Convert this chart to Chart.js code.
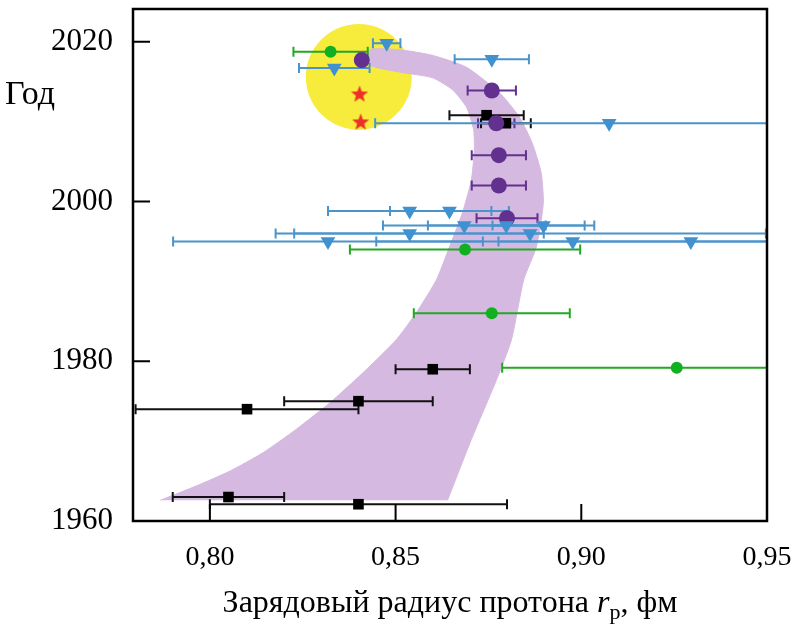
<!DOCTYPE html>
<html>
<head>
<meta charset="utf-8">
<script src="https://cdn.jsdelivr.net/npm/chart.js@4.4.0/dist/chart.umd.min.js"></script>
<style>
  html, body { margin: 0; padding: 0; background: #fff; }
</style>
</head>
<body>
<canvas id="myChart" width="806" height="628"></canvas>
<script>
// axis ticks
const xTicks = [0.80, 0.85, 0.90, 0.95];
const yTicks = [1960, 1980, 2000, 2020];

// electron scattering (black squares)
const elX    = [0.840, 0.805, 0.810, 0.840, 0.860, 0.8745, 0.8797];
const elYear = [1962.1, 1963.0, 1974.0, 1975.0, 1979.0, 2010.8, 2009.8];
const elErr  = [0.040, 0.015, 0.030, 0.020, 0.010, 0.010, 0.0067];

// CODATA values (purple circles)
const codX    = [0.8409, 0.8759, 0.8771, 0.8778, 0.8778, 0.8800];
const codYear = [2017.7, 2013.9, 2009.8, 2005.8, 2002.0, 1997.9];
const codErr  = [0, 0.0065, 0.0049, 0.0073, 0.0073, 0.0082];

// green circles
const grX    = [0.8325, 0.8687, 0.8759, 0.9257];
const grYear = [2018.75, 1994.0, 1986.0, 1979.2];
const grErr  = [0.0100, 0.0310, 0.0210, 0.0470];

// hydrogen spectroscopy (blue triangles)
const hX    = [0.8476, 0.8335, 0.8759, 0.9075, 0.8538, 0.8645, 0.8685, 0.8798, 0.8898, 0.8538, 0.8862, 0.8318, 0.8977, 0.9295];
const hYear = [2019.8, 2016.7, 2017.8, 2009.8, 1998.8, 1998.8, 1997.0, 1997.0, 1997.0, 1996.0, 1996.0, 1995.0, 1995.0, 1995.0];
const hErr  = [0.0037, 0.0095, 0.0100, 0.0630, 0.0220, 0.0160, 0.0219, 0.0211, 0.0137, 0.0361, 0.0635, 0.0417, 0.0529, 0.0518];

// muonic hydrogen (red stars)
const muX    = [0.8403, 0.8406];
const muYear = [2013.4, 2009.9];

// yellow spot
const spotX = [0.8401];
const spotYear = [2015.6];

// lilac band outline (inner edge up, outer edge down)
const bandX = [0.7867, 0.7964, 0.8054, 0.8143, 0.8233, 0.8323, 0.8412, 0.8502, 0.8556, 0.8610, 0.8645, 0.8680, 0.8704,
  0.8712, 0.8710, 0.8691, 0.8653, 0.8599, 0.8511, 0.8430,
  0.8430, 0.8511, 0.8599, 0.8691, 0.8780, 0.8833, 0.8868, 0.8892, 0.8898, 0.8895, 0.8879, 0.8845, 0.8812, 0.8772, 0.8704, 0.8640];
const bandYear = [1962.6, 1964.4, 1966.25, 1968.55, 1971.5, 1974.8, 1978.55, 1982.7, 1986.1, 1990.2, 1994.3, 1998.6, 2002.7,
  2006.5, 2009.0, 2011.8, 2014.0, 2015.5, 2016.2, 2017.1,
  2019.0, 2019.0, 2018.3, 2016.8, 2013.6, 2010.6, 2007.3, 2003.6, 2000.2, 1998.6, 1994.3, 1990.2, 1982.7, 1977.7, 1970.2, 1962.6];

const pts = (xs, ys) => xs.map((v, i) => ({x: v, y: ys[i]}));

function makeStar(r, color) {
  const c = document.createElement('canvas');
  c.width = c.height = 2 * r + 2;
  const g = c.getContext('2d');
  g.fillStyle = color;
  g.beginPath();
  for (let i = 0; i < 10; i++) {
    const rad = i % 2 ? r * 0.42 : r;
    const a = -Math.PI / 2 + i * Math.PI / 5;
    g.lineTo(r + 1 + rad * Math.cos(a), r + 1 + rad * Math.sin(a));
  }
  g.closePath();
  g.fill();
  return c;
}

const errorSets = [
  {x: elX, y: elYear, err: elErr, color: '#111111'},
  {x: codX, y: codYear, err: codErr, color: '#62308e'},
  {x: grX, y: grYear, err: grErr, color: '#22a823'},
  {x: hX, y: hYear, err: hErr, color: '#4a93cb'},
];

const serif = 'Liberation Serif';

const noPad = s => { s.paddingTop = 0; s.paddingBottom = 0; s.paddingLeft = 0; s.paddingRight = 0; };

const decor = {
  id: 'decor',
  afterDatasetDraw(chart, args) {
    if (args.index !== 1) return; // error bars go just above the band
    const {ctx, chartArea: a, scales: {x, y}} = chart;
    ctx.save();
    ctx.beginPath();
    ctx.rect(a.left, a.top, a.right - a.left, a.bottom - a.top);
    ctx.clip();
    ctx.lineWidth = 2;
    errorSets.forEach(s => {
      ctx.strokeStyle = s.color;
      s.x.forEach((v, i) => {
        if (!s.err[i]) return;
        const py = y.getPixelForValue(s.y[i]);
        const x0 = x.getPixelForValue(v - s.err[i]);
        const x1 = x.getPixelForValue(v + s.err[i]);
        ctx.beginPath();
        ctx.moveTo(x0, py); ctx.lineTo(x1, py);
        ctx.moveTo(x0, py - 5); ctx.lineTo(x0, py + 5);
        ctx.moveTo(x1, py - 5); ctx.lineTo(x1, py + 5);
        ctx.stroke();
      });
    });
    ctx.restore();
  },
  afterDraw(chart) {
    const {ctx, chartArea: a, scales: {x, y}} = chart;
    ctx.save();
    ctx.strokeStyle = '#000';
    ctx.lineWidth = 2.5;
    ctx.strokeRect(a.left, a.top, a.right - a.left, a.bottom - a.top);
    ctx.lineWidth = 2;
    ctx.beginPath();
    xTicks.forEach(v => {
      const px = x.getPixelForValue(v);
      ctx.moveTo(px, a.bottom); ctx.lineTo(px, a.bottom - 17);
    });
    yTicks.forEach(v => {
      const py = y.getPixelForValue(v);
      ctx.moveTo(a.left, py); ctx.lineTo(a.left + 17, py);
    });
    ctx.stroke();

    // y title
    ctx.fillStyle = '#000';
    ctx.textBaseline = 'alphabetic';
    ctx.textAlign = 'left';
    ctx.font = '34px "' + serif + '"';
    ctx.fillText('Год', 5, 104);

    // x title with italic r and subscript p
    const parts = [
      {t: 'Зарядовый радиус протона ', f: '32px "' + serif + '"', dy: 0},
      {t: 'r', f: 'italic 32px "' + serif + '"', dy: 0},
      {t: 'p', f: '22px "' + serif + '"', dy: 7},
      {t: ', фм', f: '32px "' + serif + '"', dy: 0},
    ];
    let total = 0;
    parts.forEach(p => { ctx.font = p.f; p.w = ctx.measureText(p.t).width; total += p.w; });
    let cx = (a.left + a.right) / 2 - total / 2;
    parts.forEach(p => {
      ctx.font = p.f;
      ctx.fillText(p.t, cx, 612 + p.dy);
      cx += p.w;
    });
    ctx.restore();
  }
};

const ctx = document.getElementById('myChart').getContext('2d');
const myChart = new Chart(ctx, {
  type: 'scatter',
  data: {
    datasets: [
      {
        label: 'spot',
        data: pts(spotX, spotYear),
        pointRadius: 53,
        pointBackgroundColor: '#f7ec3c',
        pointBorderWidth: 0,
        order: 10
      },
      {
        label: 'band',
        data: pts(bandX, bandYear),
        showLine: true,
        fill: 'shape',
        backgroundColor: '#d5b9e0',
        borderColor: '#d5b9e0',
        borderWidth: 1,
        pointRadius: 0,
        tension: 0.2,
        order: 9
      },
      {
        label: 'electron',
        data: pts(elX, elYear),
        pointStyle: 'rect',
        pointRadius: 7.5,
        pointBackgroundColor: '#000',
        pointBorderWidth: 0,
        order: 5
      },
      {
        label: 'codata',
        data: pts(codX, codYear),
        pointStyle: 'circle',
        pointRadius: 8,
        pointBackgroundColor: '#62308e',
        pointBorderWidth: 0,
        order: 4
      },
      {
        label: 'green',
        data: pts(grX, grYear),
        pointStyle: 'circle',
        pointRadius: 6,
        pointBackgroundColor: '#10b020',
        pointBorderWidth: 0,
        order: 3
      },
      {
        label: 'hydrogen',
        data: pts(hX, hYear),
        pointStyle: 'triangle',
        rotation: 180,
        pointRadius: 8.5,
        pointBackgroundColor: '#3f92cf',
        pointBorderWidth: 0,
        order: 2
      },
      {
        label: 'muonic',
        data: pts(muX, muYear),
        pointStyle: makeStar(9, '#ec3228'),
        order: 1
      }
    ]
  },
  options: {
    responsive: false,
    animation: false,
    layout: { autoPadding: false, padding: { top: 9, right: 39, left: 0, bottom: 0 } },
    plugins: { legend: { display: false }, tooltip: { enabled: false } },
    scales: {
      x: {
        type: 'linear',
        min: 0.7793,
        max: 0.95,
        afterFit: s => { s.height = 107; noPad(s); },
        afterBuildTicks: s => { s.ticks = xTicks.map(v => ({value: v})); },
        grid: { display: false, drawTicks: false },
        border: { display: false },
        ticks: {
          padding: 20,
          color: '#000',
          font: { family: serif, size: 28 },
          maxRotation: 0,
          callback: v => v.toFixed(2).replace('.', ',')
        }
      },
      y: {
        type: 'linear',
        min: 1960,
        max: 2024.1,
        afterFit: s => { s.width = 133; noPad(s); },
        afterBuildTicks: s => { s.ticks = yTicks.map(v => ({value: v})); },
        grid: { display: false, drawTicks: false },
        border: { display: false },
        ticks: {
          padding: 20,
          color: '#000',
          font: { family: serif, size: 31 },
          callback: v => String(v)
        }
      }
    }
  },
  plugins: [decor]
});
</script>
</body>
</html>
